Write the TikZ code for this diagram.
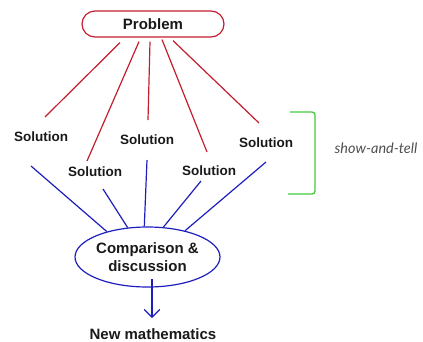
\documentclass[tikz,border=0pt]{standalone}
\usepackage{fontspec}
\setmainfont{Liberation Sans}
\newfontfamily\tellfont{Lato}
\usetikzlibrary{arrows.meta,shapes.geometric}
\definecolor{probred}{RGB}{195,30,45}
\definecolor{cmpblue}{RGB}{30,30,190}
\definecolor{brgreen}{RGB}{70,200,60}
\definecolor{tellgray}{RGB}{80,80,80}
\begin{document}
\begin{tikzpicture}[x=1pt,y=-1pt,
  bigtxt/.style={font=\fontsize{15}{17.5}\selectfont\bfseries,text=black!90},
  soltxt/.style={font=\fontsize{13.5}{16}\selectfont\bfseries,text=black!90,inner sep=0pt},
  redline/.style={draw=probred,line width=1.2pt},
  blueline/.style={draw=cmpblue,line width=1.2pt}]
\useasboundingbox (0,0) rectangle (423,341);
\node [bigtxt,draw=probred,line width=1.2pt,rounded corners=13pt,minimum width=142pt,minimum height=26pt,inner sep=0pt] (prob) at (153,24) {Problem};
\node [soltxt] (s1) at (41,137) {Solution};
\node [soltxt] (s2) at (95,172) {Solution};
\node [soltxt] (s3) at (147,140) {Solution};
\node [soltxt] (s4) at (209,171) {Solution};
\node [soltxt] (s5) at (266,143) {Solution};
\node [bigtxt,ellipse,draw=cmpblue,line width=1.2pt,minimum width=141pt,minimum height=60pt,inner sep=0pt,align=center] (cmp) at (147.5,257) {Comparison \&\\discussion};
\node [bigtxt] (newm) at (153,334) {New mathematics};
\node [font=\tellfont\itshape\fontsize{14.5}{16}\selectfont,text=tellgray] (tell) at (376,148) {show-and-tell};
\draw[redline] ([shift={(-33,5)}]prob.south) -- ([shift={(4,-20)}]s1.center);
\draw[redline] ([shift={(-14,4)}]prob.south) -- ([shift={(-8,-11)}]s2.center);
\draw[redline] ([shift={(-3,4)}]prob.south) -- ([shift={(1,-20)}]s3.center);
\draw[redline] ([shift={(9,2)}]prob.south) -- ([shift={(-2,-19)}]s4.center);
\draw[redline] ([shift={(20,3)}]prob.south) -- ([shift={(-7,-20)}]s5.center);
\draw[blueline] ([shift={(-10,29)}]s1.center) -- (cmp.148);
\draw[blueline] ([shift={(8,17)}]s2.center) -- (cmp.124);
\draw[blueline] ([shift={(0,20)}]s3.center) -- (cmp.96);
\draw[blueline] ([shift={(-8,10)}]s4.center) -- (cmp.62);
\draw[blueline] ([shift={(0,19)}]s5.center) -- (cmp.35);
\draw[blueline,-{Straight Barb[angle=90:11pt]}] ([shift={(4.5,22)}]cmp.center) -- ([shift={(-1,-16)}]newm.center);
\draw[brgreen,line width=1.3pt,rounded corners=3pt] (290,112) -- (315,112) -- (315,194) -- (288,194);
\end{tikzpicture}
\end{document}
